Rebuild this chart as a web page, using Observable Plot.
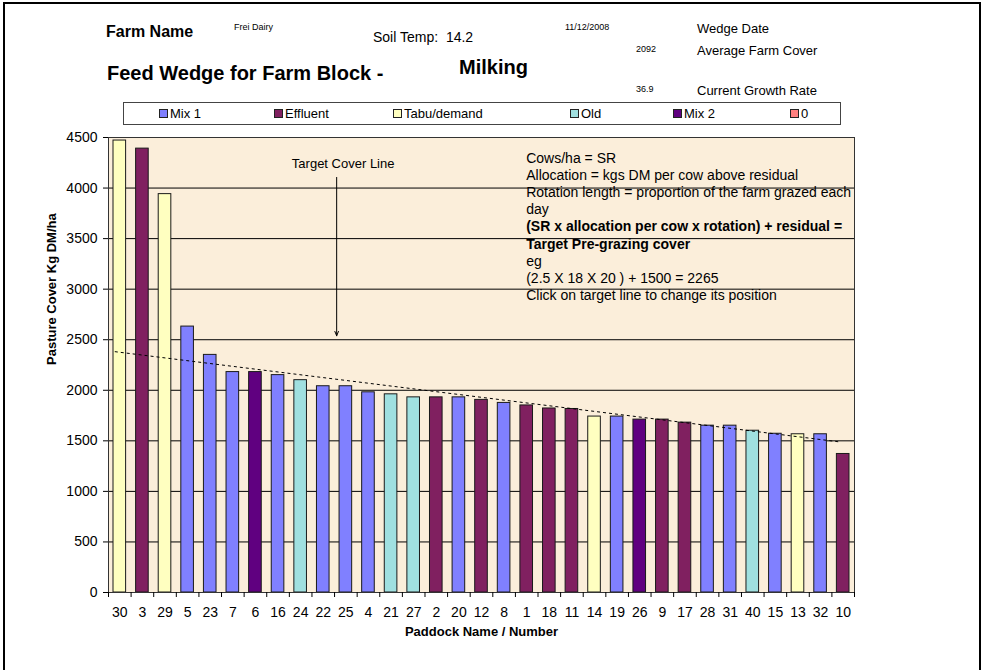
<!DOCTYPE html>
<html>
<head>
<meta charset="utf-8">
<script src="https://cdn.jsdelivr.net/npm/d3@7"></script>
<script src="https://cdn.jsdelivr.net/npm/@observablehq/plot@0.6"></script>
<style>
  html, body { margin: 0; padding: 0; background: #fff; overflow: hidden; }
  body { font-family: "Liberation Sans", Arial, sans-serif; color: #000; }
  #wrap { position: relative; width: 982px; height: 670px; overflow: hidden; }
  #wrap svg { position: absolute; left: 0; top: 0; }
  .t { position: absolute; white-space: pre; line-height: 1; }
  .b { font-weight: bold; }
  #border { position: absolute; left: 3px; top: 2px; width: 974px; height: 720px; border: 2px solid #000; }
  #legend { position: absolute; left: 123px; top: 102px; width: 716px; height: 21px; border: 1px solid #444; background: #fff; }
  .sw { position: absolute; width: 9px; height: 9px; box-sizing: border-box; border: 1px solid #222; }
  .lt { position: absolute; font-size: 13px; line-height: 1; white-space: nowrap; }
</style>
</head>
<body>
<div id="wrap">
  <div id="border"></div>
</div>
<script>
// ---- data ----
const paddocks = ["30","3","29","5","23","7","6","16","24","22","25","4","21","27","2","20","12","8","1","18","11","14","19","26","9","17","28","31","40","15","13","32","10"];
const covers   = [4470,4390,3940,2630,2350,2180,2180,2150,2100,2040,2040,1980,1960,1930,1930,1930,1905,1875,1850,1820,1815,1740,1740,1710,1710,1680,1650,1650,1600,1570,1565,1565,1370];
const types    = ["Tabu/demand","Effluent","Tabu/demand","Mix 1","Mix 1","Mix 1","Mix 2","Mix 1","Old","Mix 1","Mix 1","Mix 1","Old","Old","Effluent","Mix 1","Effluent","Mix 1","Effluent","Effluent","Effluent","Tabu/demand","Mix 1","Mix 2","Effluent","Effluent","Mix 1","Mix 1","Old","Mix 1","Tabu/demand","Mix 1","Effluent"];
const typeNames  = ["Mix 1","Effluent","Tabu/demand","Old","Mix 2","0"];
const typeColors = ["#8080FF","#802060","#FFFFC0","#A0E0E0","#600080","#FF8080"];
const yTicks = [0,500,1000,1500,2000,2500,3000,3500,4000,4500];
const targetStart = {paddock: "30", cover: 2382};
const targetEnd   = {paddock: "10", cover: 1491};
const arrowFrom = 4105, arrowTo = 2539, arrowLabelAt = 4243;
const infoTop = 4373;
const infoA = ["Cows/ha = SR","Allocation = kgs DM per cow above residual","Rotation length = proportion of the farm grazed each","day"];
const infoB = ["(SR x allocation per cow x rotation) + residual =","Target Pre-grazing cover"];
const infoC = ["eg","(2.5 X 18 X 20 ) + 1500 = 2265","Click on target line to change its position"];
const header = {farmName: "Frei Dairy", soilTemp: "14.2", date: "11/12/2008", avgCover: "2092", growthRate: "36.9", block: "Milking"};

const rows = paddocks.map((p, i) => ({paddock: p, cover: covers[i], type: types[i]}));

// ---- layout ----
const W = 982, H = 670, ML = 108, MR = 128, MT = 137, MB = 78;
const step = (W - ML - MR) / paddocks.length;
const lineH = 17.2, infoSize = 14;

const chart = Plot.plot({
  width: W, height: H,
  marginLeft: ML, marginRight: MR, marginTop: MT, marginBottom: MB,
  style: {fontFamily: "'Liberation Sans', Arial, sans-serif", fontSize: "14px", color: "#000", background: "transparent", overflow: "visible"},
  x: {type: "band", domain: paddocks, padding: 0, round: false},
  y: {domain: [0, 4500]},
  color: {type: "ordinal", domain: typeNames, range: typeColors},
  marks: [
    Plot.frame({fill: "#FBEEDA", stroke: null}),
    Plot.gridY({ticks: yTicks, stroke: "#000", strokeOpacity: 1, strokeWidth: 1}),
    Plot.barY(rows, {x: "paddock", y: "cover", fill: "type", stroke: "#1a1a1a", strokeWidth: 1, insetLeft: 5, insetRight: 5}),
    Plot.link([{}], {x1: () => targetStart.paddock, y1: () => targetStart.cover, x2: () => targetEnd.paddock, y2: () => targetEnd.cover,
      stroke: "#000", strokeWidth: 1, strokeDasharray: "3,3", dx: -5}),
    Plot.arrow([{}], {x1: () => "22", x2: () => "22", y1: () => arrowFrom, y2: () => arrowTo, dx: 13.4,
      stroke: "#000", strokeWidth: 1, headLength: 7, headAngle: 45}),
    Plot.text(["Target Cover Line"], {x: () => "25", y: () => arrowLabelAt, text: d => d, dx: -2.7, fontSize: 13, fill: "#000"}),
    Plot.text([infoA.join("\n")], {x: () => "1", y: () => infoTop, text: d => d, dx: -0.5, textAnchor: "start", lineAnchor: "top", lineHeight: lineH / infoSize, fontSize: infoSize, fill: "#000"}),
    Plot.text([infoB.join("\n")], {x: () => "1", y: () => infoTop, text: d => d, dx: -0.5, dy: 4 * lineH, textAnchor: "start", lineAnchor: "top", lineHeight: lineH / infoSize, fontSize: infoSize, fontWeight: "bold", fill: "#000"}),
    Plot.text([infoC.join("\n")], {x: () => "1", y: () => infoTop, text: d => d, dx: -0.5, dy: 6 * lineH, textAnchor: "start", lineAnchor: "top", lineHeight: lineH / infoSize, fontSize: infoSize, fill: "#000"}),
    Plot.frame({stroke: "#333", strokeWidth: 1}),
    Plot.axisY({ticks: yTicks, tickFormat: d => String(d), tickSize: 5, tickPadding: 6, fontSize: 14, label: null, stroke: "#000"}),
    Plot.axisX({tickSize: 0, tickPadding: 15, fontSize: 14, label: null}),
    Plot.axisX({tickSize: 5, tickFormat: () => "", dx: -step / 2, label: null, stroke: "#000"}),
    Plot.axisX({ticks: [paddocks[paddocks.length - 1]], tickSize: 5, tickFormat: () => "", dx: step / 2, label: null, stroke: "#000"}),
    Plot.text(["Pasture Cover Kg DM/ha"], {frameAnchor: "left", text: d => d, rotate: -90, dx: -57, fontSize: 13, fontWeight: "bold", fill: "#000"}),
    Plot.text(["Paddock Name / Number"], {frameAnchor: "bottom", text: d => d, dy: 43, fontSize: 13, fontWeight: "bold", fill: "#000"})
  ]
});

const wrap = document.getElementById("wrap");
wrap.insertBefore(chart, wrap.firstChild);

// ---- header texts ----
function addText(txt, x, yc, size, bold) {
  const d = document.createElement("div");
  d.className = "t" + (bold ? " b" : "");
  d.textContent = txt;
  d.style.left = x + "px";
  d.style.top = (yc - size / 2) + "px";
  d.style.fontSize = size + "px";
  wrap.appendChild(d);
}
addText("Farm Name", 106, 32, 16, true);
addText(header.farmName, 234, 27, 9, false);
addText("Soil Temp:  " + header.soilTemp, 373, 37, 14, false);
addText(header.date, 565, 27, 9, false);
addText("Wedge Date", 697, 28, 13, false);
addText(header.avgCover, 636, 49, 9, false);
addText("Average Farm Cover", 697, 50, 13, false);
addText("Feed Wedge for Farm Block -", 107, 73, 20, true);
addText(header.block, 459, 67, 20, true);
addText(header.growthRate, 636, 89, 9, false);
addText("Current Growth Rate", 697, 90, 13, false);

// ---- legend ----
const legendX = [159, 274, 393, 570, 673, 790];
const legend = document.createElement("div");
legend.id = "legend";
wrap.appendChild(legend);
typeNames.forEach((name, i) => {
  const sw = document.createElement("div");
  sw.className = "sw";
  sw.style.left = (legendX[i] - 124) + "px";
  sw.style.top = "6px";
  sw.style.background = typeColors[i];
  legend.appendChild(sw);
  const lt = document.createElement("div");
  lt.className = "lt";
  lt.textContent = name;
  lt.style.left = (legendX[i] - 124 + 11) + "px";
  lt.style.top = "4px";
  legend.appendChild(lt);
});
</script>
</body>
</html>
